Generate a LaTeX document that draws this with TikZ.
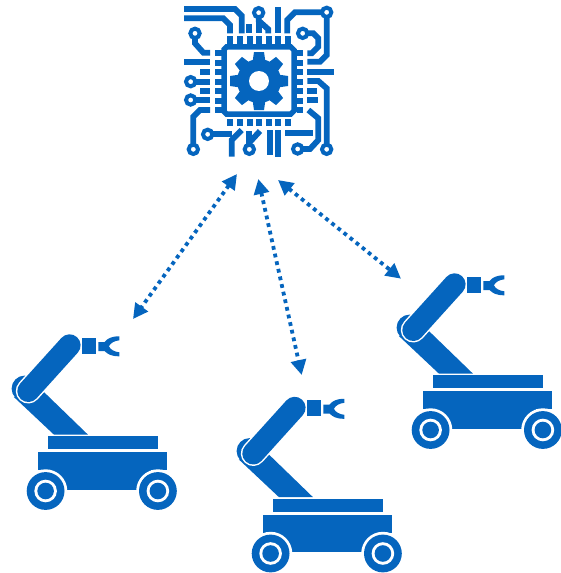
\documentclass[tikz,border=0pt]{standalone}
\usetikzlibrary{arrows.meta}
\definecolor{rb}{HTML}{0565BE}
\tikzset{
  link/.style={rb,{Triangle[length=15pt,width=15pt]}-{Triangle[length=15pt,width=15pt]},line width=3.8pt,dash pattern=on 3.8pt off 4pt},
  trace/.style={draw=rb,line width=5.8pt,line join=miter},
  pad/.style={draw=rb,line width=4pt,fill=white},
  robot/.pic={
    \fill[rb] (24,388.3) circle (13);
    \fill[rb] (13.3,396.7)--(53.3,434.3)--(87.3,434.3)--(43.3,391.7)--cycle;
    \draw[white,line width=25pt,line cap=round] (27.7,390.7)--(69,345);
    \draw[rb,line width=22pt,line cap=round] (27.7,390.7)--(69,345);
    \fill[rb] (81,337.3) rectangle (95.7,353.3);
    \fill[rb] (97.7,341.7)--(104,341.7) .. controls (107,338) and (111,336) .. (118.7,336)--(118.7,340) .. controls (114,340.5) and (110,342.5) .. (108.3,346) .. controls (110,349.5) and (114,351.5) .. (118.7,352)--(118.7,356) .. controls (111,356) and (107,354) .. (104,350.7)--(97.7,350.7)--cycle;
    \fill[rb] (47,436) rectangle (157,449);
    \fill[rb] (37.3,452) rectangle (166.3,470);
    \fill[rb] (50,470) rectangle (150,489.3);
    \foreach \cx in {45,157.3}{
      \fill[white] (\cx,490.7) circle (21.7);
      \fill[rb] (\cx,490.7) circle (18.9);
      \fill[white] (\cx,490.7) circle (11.3);
      \fill[rb] (\cx,490.7) circle (8.3);
    }
  }
}
\begin{document}
\begin{tikzpicture}[x=1pt,y=-1pt]
\useasboundingbox (0,0) rectangle (560,573);
% chip
\begin{scope}[shift={(170,0)},x=0.33333pt,y=-0.33333pt]
  \draw[rb,line width=5.4pt] (170,140.5)--(362,140.5)--(372.5,151)--(372.5,332)--(362,342.5)--(170,342.5)--(162.5,335)--(162.5,148)--cycle;
  \foreach \px in {178.5,208.5,238.5,267.5,296.5,325,352.5}{
    \fill[rb] (\px-9,108) rectangle (\px+9,132);
    \fill[rb] (\px-9,356) rectangle (\px+9,377);
  }
  \foreach \py in {157.5,187.5,216.5,245.5,273.5,302.5,330}{
    \fill[rb] (135,\py-9) rectangle (155,\py+9);
    \fill[rb] (381,\py-9) rectangle (400,\py+9);
  }
  % gear
  \fill[rb] (267,243) circle (66);
  \foreach \a in {0,45,...,315}{
    \fill[rb,rotate around={\a:(267,243)}] (248,243-60)--(252,243-87)--(282,243-87)--(286,243-60)--cycle;
  }
  \fill[white] (267,243) circle (30);
  % traces
  \draw[trace] (42,27)--(195,27)--(215,47)--(215,100);
  \draw[trace] (42,55)--(160,55)--(180,75)--(180,100);
  \draw[trace] (237,72)--(237,100);
  \draw[trace] (266,40)--(266,62)--(295,88)--(295,100);
  \draw[trace] (266,60)--(266,100);
  \draw[trace] (323,22)--(323,100);
  \draw[trace] (470,37)--(375,37)--(352,60)--(352,100);
  \draw[trace] (470,37)--(470,165)--(450,185)--(412,185);
  \draw[trace] (398,100)--(430,100)--(445,115)--(445,140)--(425,160)--(412,160);
  \draw[trace] (75,100)--(75,130)--(100,158)--(120,158);
  \draw[trace] (42,185)--(120,185);
  \draw[trace] (90,215)--(120,215);
  \draw[trace] (62,245)--(120,245);
  \draw[trace] (90,272)--(120,272);
  \draw[trace] (62,300)--(120,300);
  \draw[trace] (120,330)--(90,330)--(70,350)--(70,448);
  \draw[trace] (412,215)--(492,215);
  \draw[trace] (412,243)--(445,243)--(470,265)--(470,448);
  \draw[trace] (412,272)--(442,272);
  \draw[trace] (412,300)--(445,300);
  \draw[trace] (415,330)--(445,355)--(445,420)--(420,447)--(383,447);
  \draw[trace] (345,400)--(430,400);
  \draw[trace] (113,403)--(187,403);
  \draw[trace] (215,390)--(185,420)--(185,470);
  \draw[trace] (238,448)--(238,392);
  \draw[trace] (270,393)--(238,428);
  \draw[trace] (300,390)--(300,465);
  \draw[trace] (323,390)--(323,472);
  \foreach \cx/\cy in {266/38,470/37,398/100,75/100,62/245,62/300,70/448,470/448,383/447,113/403,238/448}{
    \draw[pad] (\cx,\cy) circle (14);
  }
\end{scope}
% robots
\pic at (0.6,0.3) {robot};
\pic at (225.6,62.8) {robot};
\pic at (385.6,-60.7) {robot};
% links
\coordinate (a1) at (237,174);
\coordinate (b1) at (133,319);
\coordinate (a2) at (258.3,179);
\coordinate (b2) at (301.7,375);
\coordinate (a3) at (278,180);
\coordinate (b3) at (401,278.7);
\draw[link] (a1)--(b1);
\draw[link] (a2)--(b2);
\draw[link] (a3)--(b3);
\end{tikzpicture}
\end{document}
